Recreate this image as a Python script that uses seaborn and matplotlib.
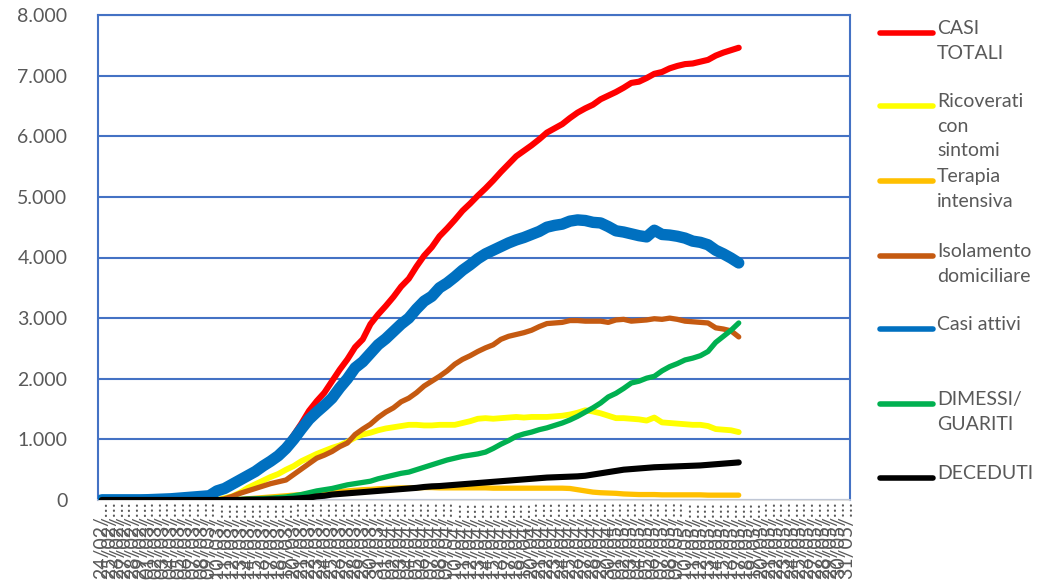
import numpy as np
import pandas as pd
import matplotlib
matplotlib.use("Agg")
import matplotlib.pyplot as plt
import matplotlib.ticker as mticker
from matplotlib.lines import Line2D
import seaborn as sns

# dates on the category axis (24/02 -> 31/05), data only up to 17/05
dates = pd.date_range("2020-02-24", "2020-05-31", freq="D")
date_labels = [d.strftime("%d/%m/") + "\u2026" for d in dates]

casi_totali = [3, 3, 3, 3, 3, 3, 5, 10, 15, 20,
               30, 40, 50, 60, 70, 155, 195, 265, 340, 415,
               490, 585, 670, 770, 900, 1070, 1260, 1470, 1630, 1770,
               1960, 2150, 2320, 2520, 2650, 2900, 3060, 3200, 3350, 3520,
               3650, 3850, 4030, 4170, 4350, 4480, 4620, 4770, 4890, 5020,
               5140, 5270, 5410, 5540, 5670, 5760, 5850, 5950, 6060, 6130,
               6200, 6300, 6390, 6460, 6520, 6610, 6670, 6730, 6800, 6880,
               6900, 6960, 7030, 7060, 7120, 7160, 7190, 7200, 7230, 7260,
               7330, 7380, 7420, 7460]
ricoverati = [0, 0, 0, 0, 0, 0, 0, 0, 0, 0,
              0, 0, 0, 0, 0, 0, 30, 60, 120, 200,
              260, 320, 380, 430, 500, 560, 640, 700, 760, 810,
              860, 900, 960, 1030, 1080, 1110, 1150, 1180, 1200, 1220,
              1240, 1240, 1230, 1230, 1240, 1240, 1240, 1270, 1300, 1340,
              1350, 1340, 1350, 1360, 1370, 1360, 1370, 1370, 1370, 1380,
              1390, 1410, 1440, 1480, 1460, 1430, 1390, 1350, 1350, 1340,
              1330, 1310, 1360, 1280, 1270, 1260, 1250, 1240, 1240, 1220,
              1170, 1160, 1150, 1120]
terapia = [0, 0, 0, 0, 0, 0, 0, 0, 0, 0,
           0, 0, 0, 0, 0, 0, 0, 0, 10, 20,
           30, 40, 50, 60, 70, 80, 90, 100, 110, 120,
           130, 140, 150, 160, 170, 175, 185, 190, 195, 200,
           200, 200, 205, 205, 200, 200, 200, 200, 200, 200,
           200, 195, 195, 195, 195, 195, 195, 195, 195, 195,
           195, 190, 170, 150, 130, 120, 115, 110, 100, 95,
           90, 90, 90, 85, 85, 85, 85, 85, 85, 80,
           80, 80, 80, 80]
isolamento = [0, 0, 0, 0, 0, 0, 0, 0, 0, 0,
              0, 0, 0, 0, 0, 0, 20, 60, 110, 150,
              190, 230, 270, 300, 330, 420, 510, 600, 690, 740,
              800, 880, 940, 1080, 1170, 1250, 1360, 1450, 1520, 1620,
              1680, 1770, 1880, 1960, 2040, 2130, 2240, 2320, 2380, 2450,
              2510, 2560, 2650, 2700, 2730, 2760, 2800, 2860, 2910, 2920,
              2930, 2960, 2960, 2950, 2950, 2950, 2930, 2970, 2980, 2950,
              2960, 2970, 2990, 2980, 3000, 2980, 2950, 2940, 2930, 2920,
              2840, 2820, 2790, 2690]
casi_attivi = [3, 3, 3, 3, 3, 3, 5, 10, 15, 20,
               30, 40, 50, 60, 70, 150, 190, 260, 330, 400,
               470, 560, 640, 730, 850, 1000, 1170, 1330, 1450, 1560,
               1680, 1850, 2000, 2180, 2280, 2420, 2560, 2660, 2780, 2900,
               3000, 3150, 3280, 3360, 3500, 3580, 3680, 3790, 3880, 3980,
               4060, 4120, 4180, 4240, 4290, 4330, 4380, 4430, 4500, 4530,
               4550, 4600, 4620, 4610, 4580, 4570, 4510, 4440, 4420, 4390,
               4360, 4340, 4450, 4380, 4370, 4350, 4320, 4270, 4250, 4210,
               4120, 4060, 3990, 3910]
guariti = [0, 0, 0, 0, 0, 0, 0, 0, 0, 0,
           0, 0, 0, 0, 0, 5, 5, 5, 10, 15,
           20, 25, 30, 40, 50, 70, 90, 120, 150, 170,
           190, 220, 250, 270, 290, 310, 350, 380, 410, 440,
           460, 500, 540, 580, 620, 660, 690, 720, 740, 760,
           790, 850, 920, 980, 1050, 1090, 1120, 1160, 1190, 1230,
           1270, 1320, 1380, 1450, 1520, 1600, 1700, 1760, 1840, 1930,
           1960, 2010, 2040, 2130, 2200, 2250, 2310, 2340, 2380, 2450,
           2600, 2700, 2800, 2920]
deceduti = [0, 0, 0, 0, 0, 0, 0, 0, 0, 0,
            0, 0, 0, 0, 0, 0, 0, 0, 0, 5,
            5, 5, 10, 10, 15, 20, 30, 40, 60, 70,
            90, 100, 110, 120, 130, 140, 150, 160, 170, 180,
            190, 200, 215, 225, 230, 240, 250, 260, 270, 280,
            290, 300, 310, 320, 330, 340, 350, 360, 370, 375,
            380, 385, 390, 400, 420, 440, 460, 480, 500, 510,
            520, 530, 540, 545, 550, 555, 560, 565, 570, 580,
            590, 600, 610, 620]

series_names = ["CASI\nTOTALI", "Ricoverati\ncon\nsintomi", "Terapia\nintensiva",
                "Isolamento\ndomiciliare", "Casi attivi", "DIMESSI/\nGUARITI", "DECEDUTI"]
series_values = [casi_totali, ricoverati, terapia, isolamento, casi_attivi, guariti, deceduti]
colors = ["#FF0000", "#FFFF00", "#FFC000", "#C55A11", "#0070C0", "#00B050", "#000000"]
widths = [4.4, 4.2, 3.8, 3.8, 8.2, 3.8, 4.4]

sns.set_theme(style="white")
plt.rcParams["font.family"] = ["Lato", "DejaVu Sans"]
text_grey = "#595959"
grid_blue = "#4472C4"

fig = plt.figure(figsize=(10.38, 5.88), dpi=100)
ax = fig.add_axes([98 / 1038, 1 - 500 / 588, 752 / 1038, 485 / 588])

for i, (name, vals) in enumerate(zip(series_names, series_values)):
    days = np.arange(len(vals))
    sns.lineplot(x=days, y=vals, ax=ax, color=colors[i], linewidth=widths[i],
                 legend=False, zorder=3 + i)
for ln in ax.lines:
    ln.set_solid_capstyle("round")
    ln.set_solid_joinstyle("round")

ax.set_xlim(-0.5, len(dates) - 0.5)
ax.set_ylim(0, 8000)
ax.set_xticks(np.arange(len(dates)))
ax.set_xticklabels(date_labels, rotation=90, fontsize=14, color=text_grey)
ax.set_yticks(np.arange(0, 8001, 1000))
ax.yaxis.set_major_formatter(mticker.FuncFormatter(lambda v, p: f"{int(v):,}".replace(",", ".")))
ax.tick_params(axis="y", labelsize=14, labelcolor=text_grey, length=0, pad=22)
ax.tick_params(axis="x", length=0, pad=1)
ax.grid(axis="y", color=grid_blue, linewidth=1.5)
ax.set_axisbelow(True)
for side in ["left", "right", "top"]:
    ax.spines[side].set_color(grid_blue)
    ax.spines[side].set_linewidth(1.5)
ax.spines["bottom"].set_color("#D9D9D9")
ax.spines["bottom"].set_linewidth(1.2)
ax.set_xlabel("")
ax.set_ylabel("")

# legend on the right, drawn like the spreadsheet one
handle_y = [33, 106, 181, 256, 329, 404, 478]
for name, c, y in zip(series_names, colors, handle_y):
    fy = 1 - y / 588
    fig.add_artist(Line2D([880 / 1038, 933 / 1038], [fy, fy], color=c, linewidth=4,
                          solid_capstyle="round", transform=fig.transFigure))
    fig.text(937 / 1038, 1 - (y - 13) / 588, name, fontsize=14, color=text_grey,
             va="top", ha="left", linespacing=1.55)

fig.savefig("out.png", dpi=100, facecolor="white")
